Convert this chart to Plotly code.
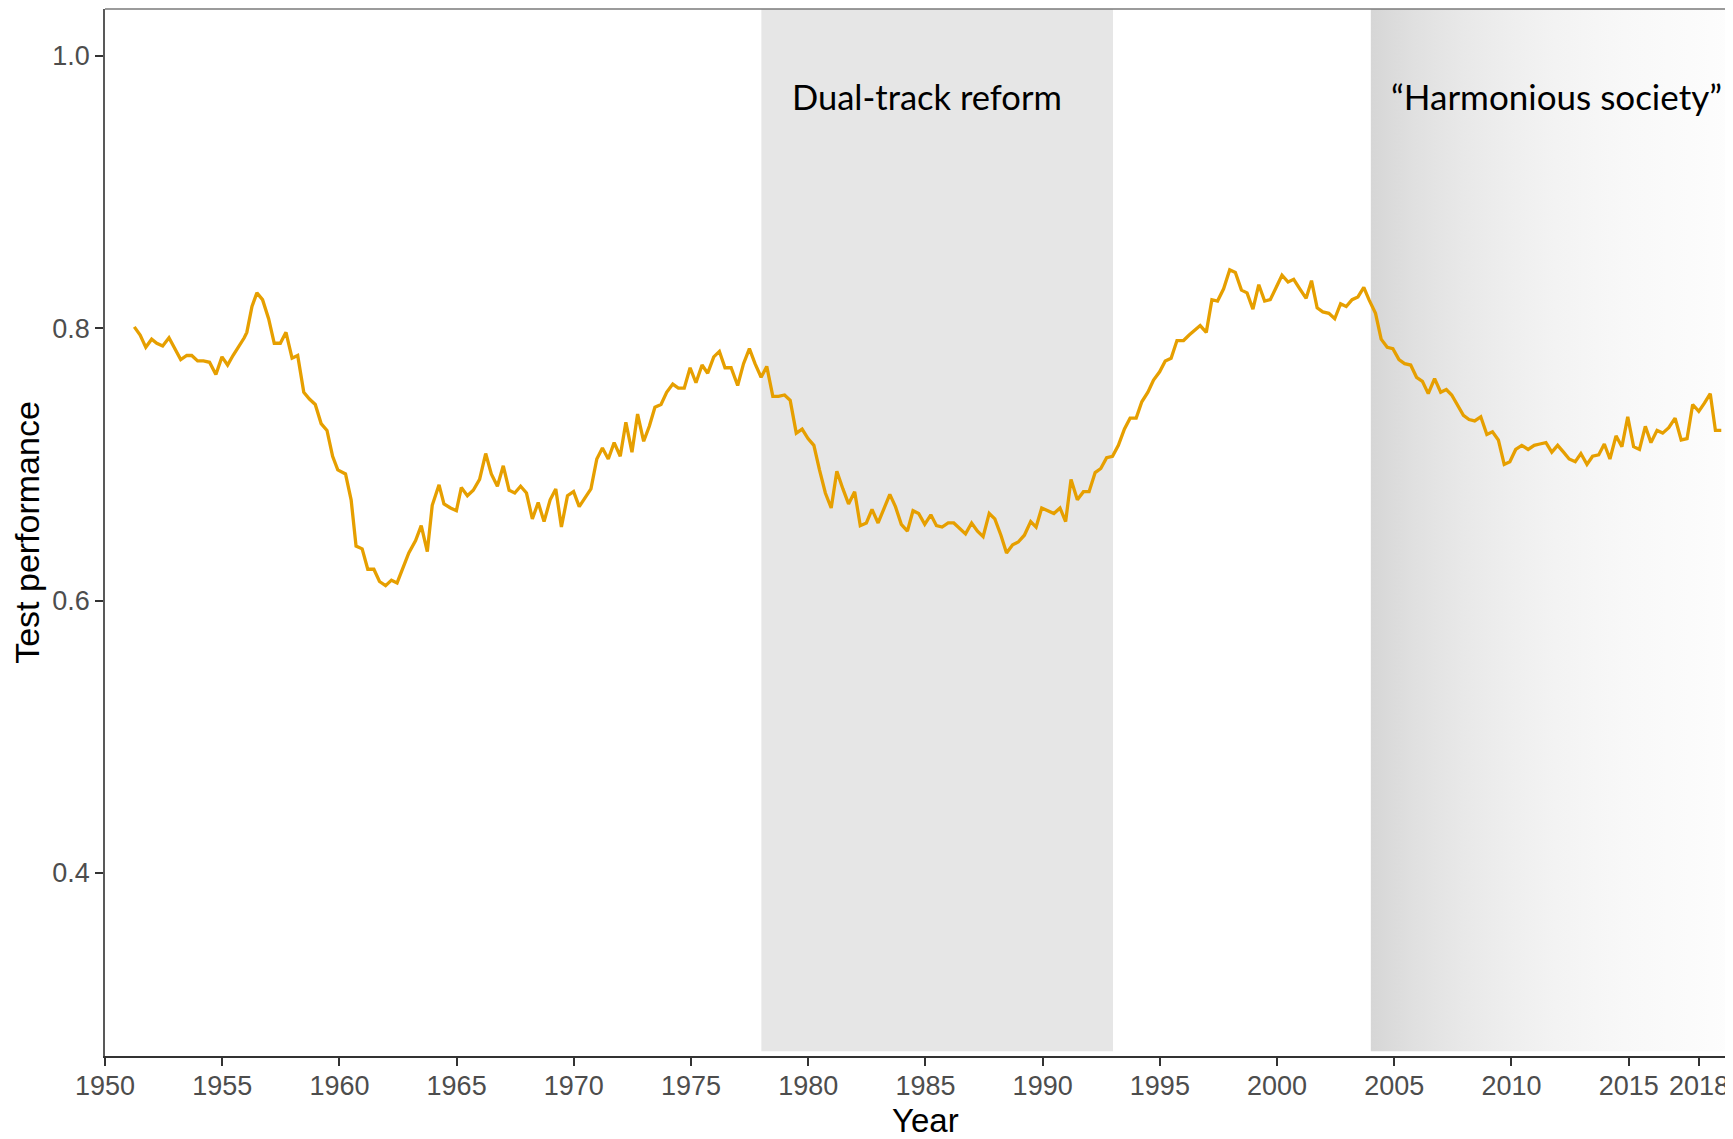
import plotly.graph_objects as go

# ---------------- data ----------------
years = [
    1951.25, 1951.50, 1951.74, 1951.99, 1952.21, 1952.46, 1952.73, 1952.99,
    1953.23, 1953.49, 1953.70, 1953.95, 1954.20, 1954.46, 1954.73, 1954.99,
    1955.23, 1955.46, 1955.70, 1955.94, 1956.05, 1956.27, 1956.48, 1956.72,
    1956.98, 1957.22, 1957.48, 1957.72, 1957.98, 1958.22, 1958.48, 1958.72,
    1958.97, 1959.22, 1959.47, 1959.71, 1959.93, 1960.26, 1960.50, 1960.71,
    1960.97, 1961.21, 1961.47, 1961.71, 1961.97, 1962.22, 1962.46, 1962.75,
    1962.96, 1963.25, 1963.49, 1963.75, 1963.96, 1964.25, 1964.46, 1964.74,
    1964.99, 1965.20, 1965.46, 1965.71, 1965.98, 1966.24, 1966.48, 1966.74,
    1966.99, 1967.24, 1967.48, 1967.73, 1967.98, 1968.23, 1968.48, 1968.73,
    1968.99, 1969.23, 1969.47, 1969.73, 1969.99, 1970.23, 1970.48, 1970.73,
    1970.98, 1971.22, 1971.47, 1971.72, 1971.98, 1972.22, 1972.48, 1972.72,
    1972.98, 1973.22, 1973.46, 1973.72, 1973.96, 1974.22, 1974.46, 1974.71,
    1974.96, 1975.21, 1975.47, 1975.71, 1975.97, 1976.21, 1976.45, 1976.71,
    1976.99, 1977.24, 1977.49, 1977.73, 1977.99, 1978.23, 1978.49, 1978.73,
    1978.99, 1979.23, 1979.49, 1979.74, 1979.99, 1980.24, 1980.48, 1980.73,
    1980.98, 1981.22, 1981.48, 1981.72, 1981.98, 1982.22, 1982.48, 1982.72,
    1982.98, 1983.22, 1983.48, 1983.72, 1983.97, 1984.23, 1984.47, 1984.71,
    1984.97, 1985.23, 1985.47, 1985.71, 1985.97, 1986.21, 1986.47, 1986.71,
    1986.97, 1987.22, 1987.46, 1987.72, 1987.96, 1988.22, 1988.46, 1988.72,
    1988.96, 1989.22, 1989.49, 1989.72, 1989.96, 1990.24, 1990.48, 1990.74,
    1990.98, 1991.21, 1991.48, 1991.74, 1991.98, 1992.24, 1992.48, 1992.73,
    1992.98, 1993.23, 1993.49, 1993.73, 1993.99, 1994.23, 1994.49, 1994.73,
    1994.99, 1995.23, 1995.48, 1995.73, 1996.01, 1996.25, 1996.51, 1996.72,
    1996.98, 1997.22, 1997.46, 1997.72, 1997.98, 1998.22, 1998.48, 1998.72,
    1998.97, 1999.22, 1999.47, 1999.71, 1999.96, 2000.21, 2000.47, 2000.71,
    2000.97, 2001.24, 2001.47, 2001.71, 2001.95, 2002.21, 2002.46, 2002.71,
    2002.95, 2003.20, 2003.45, 2003.70, 2003.92, 2004.20, 2004.44, 2004.70,
    2004.94, 2005.20, 2005.44, 2005.70, 2005.95, 2006.20, 2006.45, 2006.72,
    2006.98, 2007.22, 2007.45, 2007.69, 2007.95, 2008.19, 2008.43, 2008.69,
    2008.95, 2009.19, 2009.44, 2009.69, 2009.93, 2010.18, 2010.44, 2010.71,
    2010.97, 2011.21, 2011.47, 2011.72, 2011.97, 2012.22, 2012.46, 2012.72,
    2012.96, 2013.22, 2013.46, 2013.72, 2013.96, 2014.20, 2014.46, 2014.71,
    2014.96, 2015.21, 2015.46, 2015.71, 2015.95, 2016.21, 2016.45, 2016.71,
    2016.98, 2017.24, 2017.49, 2017.73, 2017.99, 2018.23, 2018.48, 2018.70,
    2018.95,
]

performance = [
    0.801, 0.795, 0.786, 0.792, 0.789, 0.787, 0.793, 0.785,
    0.777, 0.780, 0.780, 0.776, 0.776, 0.775, 0.766, 0.779,
    0.773, 0.780, 0.786, 0.793, 0.797, 0.816, 0.826, 0.821,
    0.807, 0.789, 0.789, 0.797, 0.778, 0.780, 0.753, 0.748,
    0.744, 0.730, 0.725, 0.706, 0.696, 0.693, 0.674, 0.640,
    0.638, 0.623, 0.623, 0.614, 0.611, 0.615, 0.613, 0.626,
    0.635, 0.644, 0.655, 0.636, 0.670, 0.685, 0.671, 0.668,
    0.666, 0.683, 0.677, 0.681, 0.689, 0.708, 0.693, 0.684,
    0.699, 0.681, 0.679, 0.684, 0.679, 0.660, 0.672, 0.658,
    0.674, 0.682, 0.654, 0.677, 0.680, 0.669, 0.675, 0.682,
    0.704, 0.712, 0.704, 0.716, 0.706, 0.731, 0.709, 0.737,
    0.717, 0.728, 0.742, 0.744, 0.753, 0.759, 0.756, 0.756,
    0.771, 0.760, 0.773, 0.767, 0.779, 0.783, 0.771, 0.771,
    0.758, 0.774, 0.785, 0.774, 0.764, 0.772, 0.750, 0.750,
    0.751, 0.747, 0.723, 0.726, 0.719, 0.714, 0.696, 0.679,
    0.668, 0.695, 0.682, 0.671, 0.680, 0.655, 0.657, 0.667,
    0.657, 0.667, 0.678, 0.669, 0.656, 0.651, 0.666, 0.664,
    0.656, 0.663, 0.655, 0.654, 0.657, 0.657, 0.653, 0.649,
    0.657, 0.651, 0.647, 0.664, 0.660, 0.648, 0.635, 0.641,
    0.643, 0.648, 0.658, 0.654, 0.668, 0.666, 0.664, 0.668,
    0.658, 0.689, 0.674, 0.680, 0.680, 0.694, 0.697, 0.705,
    0.706, 0.714, 0.726, 0.734, 0.734, 0.746, 0.753, 0.762,
    0.768, 0.776, 0.778, 0.791, 0.791, 0.795, 0.799, 0.802,
    0.797, 0.821, 0.820, 0.829, 0.843, 0.841, 0.828, 0.826,
    0.814, 0.832, 0.820, 0.821, 0.830, 0.839, 0.834, 0.836,
    0.829, 0.822, 0.835, 0.815, 0.812, 0.811, 0.807, 0.818,
    0.816, 0.821, 0.823, 0.830, 0.821, 0.811, 0.792, 0.786,
    0.785, 0.777, 0.774, 0.773, 0.764, 0.761, 0.752, 0.763,
    0.753, 0.755, 0.751, 0.744, 0.736, 0.733, 0.732, 0.735,
    0.722, 0.724, 0.718, 0.700, 0.702, 0.711, 0.714, 0.711,
    0.714, 0.715, 0.716, 0.709, 0.714, 0.709, 0.704, 0.702,
    0.708, 0.700, 0.706, 0.707, 0.715, 0.704, 0.721, 0.713,
    0.735, 0.713, 0.711, 0.728, 0.716, 0.725, 0.723, 0.727,
    0.734, 0.718, 0.719, 0.744, 0.739, 0.745, 0.752, 0.725,
    0.725,
]

x_tick_values = [1950, 1955, 1960, 1965, 1970, 1975, 1980, 1985, 1990,
                 1995, 2000, 2005, 2010, 2015, 2018]
y_tick_values = [0.4, 0.6, 0.8, 1.0]
y_tick_labels = ["0.4", "0.6", "0.8", "1.0"]

dual_track_period = [1978, 1993]
harmonious_start = 2004
period_labels = ["Dual-track reform", "\u201cHarmonious society\u201d"]
label_years = [1985.05, 2011.9]
label_value = 0.9705

# ---------------- styling ----------------
X_RANGE = [1950, 2019.45]
Y_RANGE = [0.2655, 1.0345]
RECT_BOTTOM = 0.269
LINE_COLOR = "#E69F00"
TICK_FONT = dict(family="Liberation Sans", size=27, color="#4D4D4D")
TITLE_FONT = dict(family="Liberation Sans", size=34, color="#000000")
XTITLE_FONT = dict(family="Liberation Sans", size=33, color="#000000")
LABEL_SIZES = [34.5, 35.0]

fig = go.Figure()

# gradient-shaded "Harmonious society" period
fig.add_trace(go.Scatter(
    x=[harmonious_start, X_RANGE[1], X_RANGE[1], harmonious_start, harmonious_start],
    y=[RECT_BOTTOM, RECT_BOTTOM, Y_RANGE[1], Y_RANGE[1], RECT_BOTTOM],
    mode="lines", line=dict(width=0), fill="toself",
    fillgradient=dict(
        type="horizontal",
        colorscale=[[0, "#d6d6d6"], [0.12, "#e0e0e0"], [0.25, "#e8e8e8"],
                    [0.38, "#eeeeee"], [0.51, "#f3f3f3"], [0.7, "#f8f8f8"],
                    [1, "#fdfdfd"]],
    ),
    hoverinfo="skip", showlegend=False,
))

fig.add_trace(go.Scatter(
    x=years, y=performance, mode="lines",
    line=dict(color=LINE_COLOR, width=3.3),
    showlegend=False,
))

fig.add_shape(type="rect", xref="x", yref="y",
              x0=dual_track_period[0], x1=dual_track_period[1],
              y0=RECT_BOTTOM, y1=Y_RANGE[1],
              fillcolor="#E6E6E6", line=dict(width=0), layer="below")

# top panel border
fig.add_shape(type="line", xref="paper", yref="paper", x0=0, x1=1, y0=1, y1=1,
              line=dict(color="#7a7a7a", width=1.5))

for txt, xx, sz in zip(period_labels, label_years, LABEL_SIZES):
    fig.add_annotation(x=xx, y=label_value, xref="x", yref="y", text=txt,
                       showarrow=False, xanchor="center", yanchor="middle",
                       font=dict(family="Lato", size=sz, color="#000000"))

# x-axis title (centred under the 1985 position as in the original, whose
# panel continues past the right edge of the picture)
fig.add_annotation(x=1985, y=-0.0615, xref="x", yref="paper", text="Year",
                   showarrow=False, xanchor="center", yanchor="middle",
                   font=XTITLE_FONT)

# the page body adds an 8px offset, so the figure is 8px smaller
fig.update_layout(
    width=1725, height=1131,
    margin=dict(l=97, r=0, t=1, b=83, autoexpand=False),
    paper_bgcolor="white", plot_bgcolor="white",
    showlegend=False,
)

fig.update_xaxes(
    range=X_RANGE, tickmode="array", tickvals=x_tick_values,
    ticktext=[str(v) for v in x_tick_values], automargin=False,
    showline=True, linecolor="#333333", linewidth=1.5,
    ticks="outside", ticklen=8, tickwidth=1.5, tickcolor="#333333",
    tickfont=TICK_FONT, showgrid=False, zeroline=False,
    ticklabelstandoff=-3,
)
fig.update_yaxes(
    range=Y_RANGE, tickmode="array", tickvals=y_tick_values, ticktext=y_tick_labels,
    automargin=False,
    showline=True, linecolor="#595959", linewidth=1.5,
    ticks="outside", ticklen=8, tickwidth=1.5, tickcolor="#333333",
    tickfont=TICK_FONT, showgrid=False, zeroline=False,
    title=dict(text="Test performance", font=TITLE_FONT, standoff=6),
)

fig.write_html("out.html")
